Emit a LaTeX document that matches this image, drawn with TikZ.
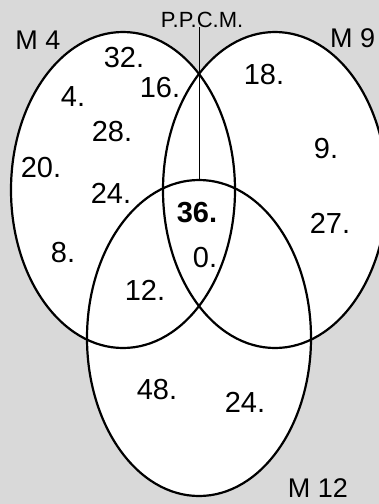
\documentclass[tikz,border=0pt]{standalone}
\usepackage{fontspec}
\setmainfont{Liberation Sans}
\usetikzlibrary{shapes.geometric}
\definecolor{bggray}{RGB}{217,217,217}
\begin{document}
\begin{tikzpicture}[x=1pt,y=-1pt,
  setbox/.style={ellipse,draw=black,line width=2.2pt,fill=white,inner sep=0pt,outer sep=0pt,minimum width=224pt,minimum height=316pt},
  num/.style={font=\fontsize{29}{29}\selectfont,inner sep=0pt},
  lab/.style={font=\fontsize{27}{27}\selectfont,inner sep=0pt}]
\fill[bggray] (0,0) rectangle (379,504);
\useasboundingbox (0,0) rectangle (379,504);
% fills first
\node[setbox,draw=none] (f4) at (123,190) {};
\node[setbox,draw=none] (f9) at (275,190) {};
\node[setbox,draw=none] (f12) at (199,338) {};
% outlines
\node[setbox,fill=none] (m4) at (123,190) {};
\node[setbox,fill=none] (m9) at (275,190) {};
\node[setbox,fill=none] (m12) at (199,338) {};
% labels
\node[lab] (l4) at (38,40) {M 4};
\node[lab,anchor=west] (l9) at (330,38) {M 9};
\node[lab] (l12) at (318,488) {M 12};
\node[font=\fontsize{22}{22}\selectfont,inner sep=0pt,anchor=base] (ppcm) at (202,27) {P.P.C.M.};
\draw[line width=0.8pt] (ppcm.south -| m12.north) -- (m12.north);
% numbers
\node[num] (a1) at (124,58) {32.};
\node[num] (a2) at (73,97) {4.};
\node[num] (a3) at (160,88) {16.};
\node[num] (a4) at (112,132) {28.};
\node[num] (a5) at (41,168) {20.};
\node[num] (a6) at (111,193) {24.};
\node[num] (a7) at (63,253) {8.};
\node[num] (a8) at (145,290) {12.};
\node[num] (b1) at (264,75) {18.};
\node[num] (b2) at (326,149) {9.};
\node[num] (b3) at (330,223) {27.};
\node[num,font=\fontsize{29}{29}\selectfont\bfseries] (c1) at (197,213) {36.};
\node[num] (c2) at (205,258) {0.};
\node[num] (d1) at (157,390) {48.};
\node[num] (d2) at (245,402) {24.};
\end{tikzpicture}
\end{document}
